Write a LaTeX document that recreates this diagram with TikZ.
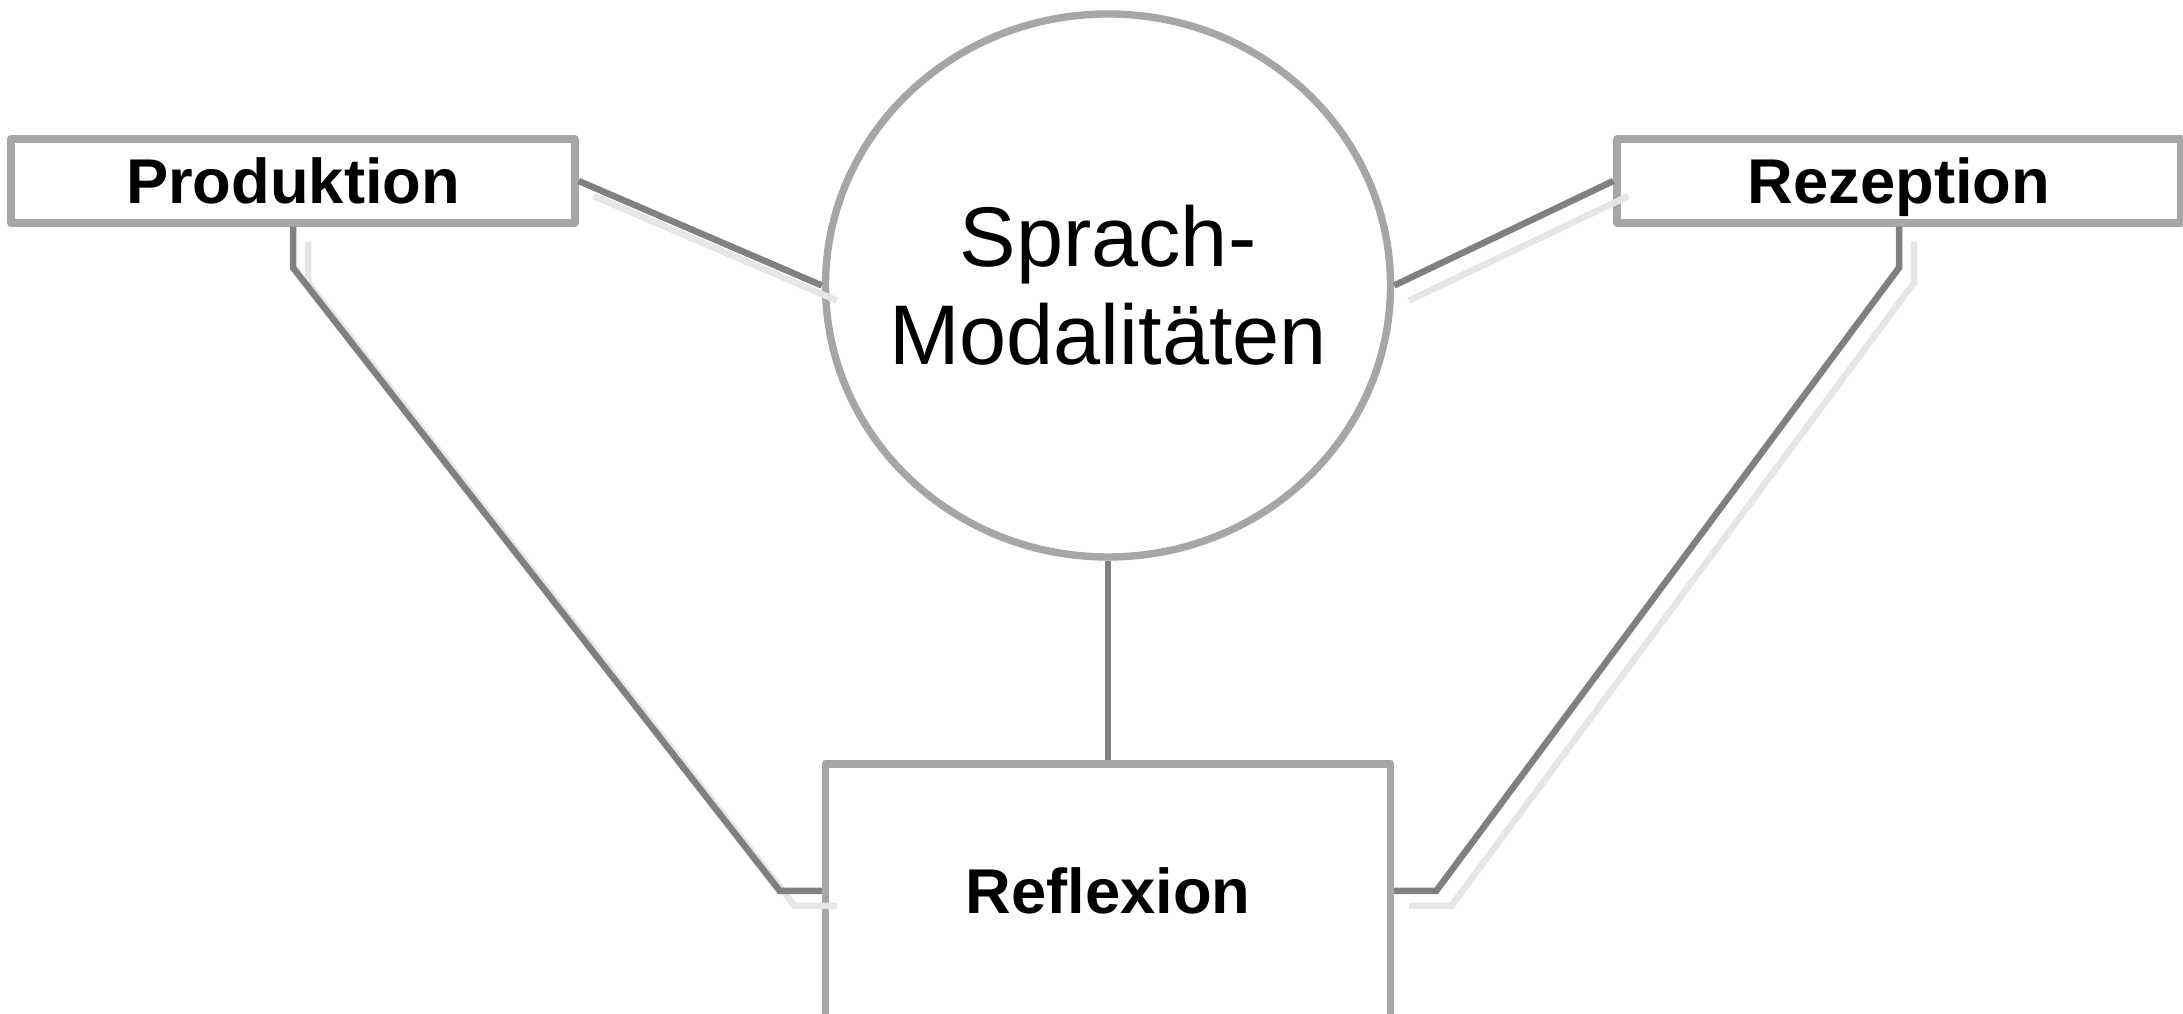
\documentclass[tikz,border=0pt]{standalone}
\usepackage{fontspec}
\setmainfont{Liberation Sans}
\usetikzlibrary{shapes.geometric}
\definecolor{boxgray}{HTML}{A6A6A6}
\definecolor{linegray}{HTML}{808080}
\definecolor{shadowgray}{HTML}{E6E6E6}

\begin{document}
\begin{tikzpicture}[
    mybox/.style={draw=boxgray, line width=2.1pt, line join=round, inner sep=0pt,
        minimum width=5.64cm, minimum height=0.84cm,
        text height=12.9pt, text depth=0pt,
        font=\bfseries\fontsize{18}{21.6}\selectfont},
    mymodal/.style={ellipse, draw=boxgray, line width=2.1pt, inner xsep=-0.4cm, inner ysep=0pt,
        minimum width=5.65cm, minimum height=5.43cm, align=center,
        font=\fontsize{24.1}{27.9}\selectfont},
    myline/.style={linegray, line width=1.85pt},
    myshadow/.style={shadowgray, line width=1.85pt,
        transform canvas={xshift=1.5mm, yshift=-1.5mm}}
]
    \useasboundingbox (0, 0) rectangle (21.83, 10.14);

    % Nodes
    \node[mybox] (prod) at (2.93, 8.33) {Produktion};
    \node[mybox] (rez) at (18.99, 8.33) {Rezeption};
    \node[mymodal] (modal) at (11.08, 7.285) {Sprach-\\Modalitäten};
    \node[mybox, minimum width=5.65cm, minimum height=2.54cm] (refl) at (11.08, 1.23) {Reflexion};

    % Shadows
    \draw[myshadow] (prod.east) -- (modal.west);
    \draw[myshadow] (rez.west) -- (modal.east);
    \draw[myshadow] (prod.south) -- ++(0, -0.41) -- ([xshift=-4.2mm]refl.west) -- (refl.west);
    \draw[myshadow] (rez.south) -- ++(0, -0.41) -- ([xshift=4.2mm]refl.east) -- (refl.east);

    % Connectors
    \draw[myline] (prod.east) -- (modal.west);
    \draw[myline] (rez.west) -- (modal.east);
    \draw[myline] (modal.south) -- (refl.north);
    \draw[myline] (prod.south) -- ++(0, -0.41) -- ([xshift=-4.2mm]refl.west) -- (refl.west);
    \draw[myline] (rez.south) -- ++(0, -0.41) -- ([xshift=4.2mm]refl.east) -- (refl.east);
\end{tikzpicture}
\end{document}
